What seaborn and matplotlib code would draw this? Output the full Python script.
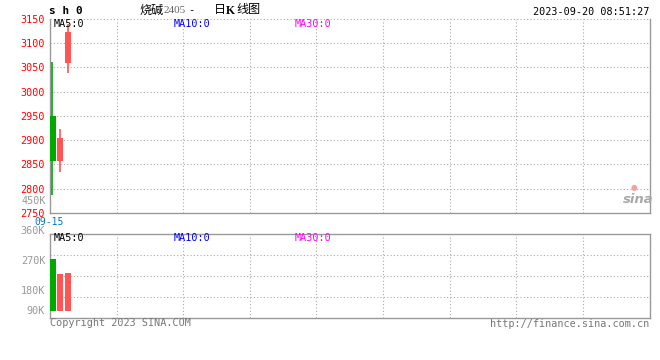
import numpy as np
import pandas as pd
import matplotlib
matplotlib.use("Agg")
import matplotlib.pyplot as plt
import seaborn as sns

# ---------------- data ----------------
dates = ["09-15", "09-18", "09-19"]
opens = [2950, 2856, 3058]
closes = [2858, 2904, 3122]
highs = [3061, 2923, 3139]
lows = [2788, 2835, 3039]
volumes = [245000, 174000, 180000]
price_ticks = [2750, 2800, 2850, 2900, 2950, 3000, 3050, 3100, 3150]
vol_labels = ["360K", "270K", "180K", "90K"]
vol_label_pos = [1.04, 0.68, 0.325, 0.087]   # axes fraction of the label centres

GREEN = "#00a800"
RED = "#ff5555"
GRID = "#aaaaaa"
BORDER = "#999999"

sns.set_style("white")
plt.rcParams["font.family"] = ["DejaVu Sans Mono", "Noto Sans CJK SC"]

W, H = 660, 360
fig = plt.figure(figsize=(W / 100, H / 100), dpi=100)


def fx(x):
    return x / W


def fy(y):
    return 1 - y / H


ax = fig.add_axes([fx(50), fy(213), fx(599.5), (213 - 18.6) / H])
axv = fig.add_axes([fx(50), fy(318.3), fx(599.5), 84 / H])

n = len(dates)
idx = np.arange(n)
df = pd.DataFrame({"i": idx, "open": opens, "close": closes, "high": highs,
                   "low": lows, "vol": volumes})
df["dir"] = np.where(df["close"] >= df["open"], "up", "down")
pal = {"up": RED, "down": GREEN}
XLIM = (-0.4, 79.6)

# ---------------- candles ----------------
for _, r in df.iterrows():
    c = pal[r["dir"]]
    ax.vlines(r["i"] - (0.07 if r["dir"] == "down" else 0), r["low"], r["high"],
              color=c, lw=1.2, zorder=3)
    lo, hi = sorted([r["open"], r["close"]])
    ax.bar(r["i"], hi - lo, bottom=lo, width=0.8, color=c, lw=0, zorder=4)

ax.set_xlim(*XLIM)
ax.set_ylim(price_ticks[0], price_ticks[-1])
ax.set_yticks(price_ticks)
ax.set_yticklabels([str(t) for t in price_ticks], color="#ff0000", fontsize=7.3)
ax.tick_params(axis="y", length=0, pad=4)
ax.set_xticks([])
ax.tick_params(axis="x", length=0)
for t in price_ticks[1:-1]:
    ax.axhline(t, color=GRID, lw=0.8, ls=(0, (1, 2)), zorder=1)
xg = np.linspace(XLIM[0], XLIM[1], 10)[1:-1]
for x in xg:
    ax.axvline(x, color=GRID, lw=0.8, ls=(0, (1, 2)), zorder=1)
ax.spines["top"].set_visible(False)
ax.axhline(price_ticks[-1], color=GRID, lw=0.8, ls=(0, (1, 2)), zorder=1, clip_on=False)
for s in ["left", "bottom", "right"]:
    ax.spines[s].set_color(BORDER)
    ax.spines[s].set_linewidth(1.0)

# ---------------- volume ----------------
sns.barplot(data=df, x="i", y="vol", hue="dir", palette=pal, native_scale=True,
            dodge=False, width=0.8, legend=False, ax=axv, linewidth=0, zorder=3,
            saturation=1)
axv.set_xlim(*XLIM)
axv.set_ylim(-34000, 360000)
axv.set_xlabel("")
axv.set_ylabel("")
axv.set_xticks([])
axv.set_yticks([])
yl = axv.get_ylim()
for frac in [0.25, 0.5, 0.75]:
    axv.axhline(yl[0] + frac * (yl[1] - yl[0]), color=GRID, lw=0.8, ls=(0, (1, 2)), zorder=1)
for x in xg:
    axv.axvline(x, color=GRID, lw=0.8, ls=(0, (1, 2)), zorder=1)
for s in axv.spines.values():
    s.set_color(BORDER)
    s.set_linewidth(1.0)
for lab, p in zip(vol_labels, vol_label_pos):
    axv.text(-0.008, p, lab, transform=axv.transAxes, ha="right", va="center",
             color="#999999", fontsize=7.3, clip_on=False)

# ---------------- texts ----------------
mono = ["DejaVu Sans Mono"]
cjk = ["Noto Sans CJK SC", "DejaVu Sans"]
serif = ["Liberation Serif", "DejaVu Serif"]
fig.text(fx(49), fy(11.5), "s h 0", fontsize=8, fontweight="bold", ha="left",
         va="center", family=mono, color="#000000")
fig.text(fx(139.5), fy(10), "烧碱", fontsize=8.7, ha="left", va="center",
         family=cjk, color="#000000")
fig.text(fx(163.5), fy(10.5), "2405", fontsize=8, ha="left", va="center",
         family=serif, color="#666666")
fig.text(fx(191), fy(10.5), "-", fontsize=7.5, ha="center", va="center",
         family=mono, color="#000000")
fig.text(fx(214), fy(10), "日", fontsize=8.7, ha="left", va="center",
         family=cjk, color="#000000")
fig.text(fx(230), fy(10.5), "K", fontsize=8.5, fontweight="bold", ha="center",
         va="center", family=serif, color="#000000")
fig.text(fx(236), fy(10), "线图", fontsize=8.7, ha="left", va="center",
         family=cjk, color="#000000")
fig.text(fx(649.5), fy(11.7), "2023-09-20 08:51:27", fontsize=7.3, ha="right",
         va="center", family=mono, color="#000000")

fig.text(fx(54), fy(23.7), "MA5:0", fontsize=7.3, family=mono, va="center", color="#000000")
fig.text(fx(174), fy(23.7), "MA10:0", fontsize=7.3, family=mono, va="center", color="#0000ff")
fig.text(fx(295), fy(23.7), "MA30:0", fontsize=7.3, family=mono, va="center", color="#ff00ff")
fig.text(fx(54), fy(238.3), "MA5:0", fontsize=7.3, family=mono, va="center", color="#000000")
fig.text(fx(174), fy(238.3), "MA10:0", fontsize=7.3, family=mono, va="center", color="#0000ff")
fig.text(fx(295), fy(238.3), "MA30:0", fontsize=7.3, family=mono, va="center", color="#ff00ff")

fig.text(fx(46), fy(200.7), "450K", fontsize=7.3, family=mono, ha="right", va="center",
         color="#999999")
fig.text(fx(49.5), fy(222), dates[0], fontsize=7.0, family=mono, ha="center",
         va="center", color="#0077cc")
fig.text(fx(50), fy(323.5), "Copyright 2023 SINA.COM", fontsize=7.3, family=mono,
         ha="left", va="center", color="#777777")
fig.text(fx(649.5), fy(324), "http://finance.sina.com.cn", fontsize=7.3, family=mono,
         ha="right", va="center", color="#777777")
fig.text(fx(638), fy(199.5), "sina", fontsize=9.5, fontweight="bold", style="italic",
         family=["DejaVu Sans"], ha="center", va="center", color="#a8a8a8")
fig.text(fx(634), fy(187.5), "●", fontsize=5.5, family=["DejaVu Sans"], ha="center",
         va="center", color="#f4a0a0")

fig.savefig("out.png", dpi=100)
